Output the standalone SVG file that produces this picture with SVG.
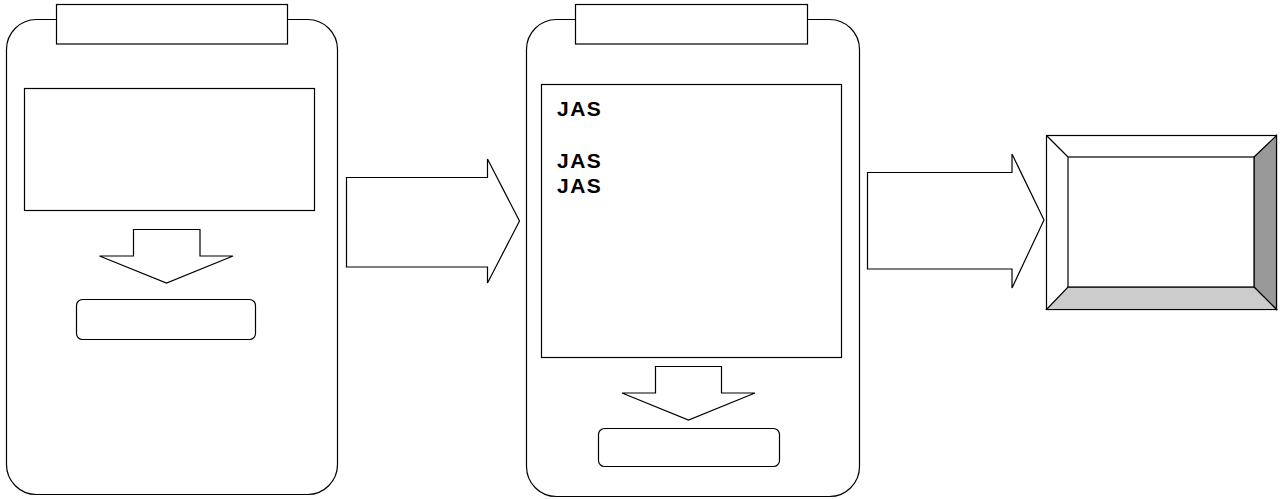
<svg xmlns="http://www.w3.org/2000/svg" width="1285" height="499" viewBox="0 0 1285 499">
<style>
.s{fill:#fff;stroke:#000;stroke-width:1.2}
.t{font-family:"Liberation Sans",Arial,sans-serif;font-weight:bold;font-size:21px;letter-spacing:1.5px;fill:#000}
</style>
<rect width="1285" height="499" fill="#fff"/>
<g id="device1">
<rect class="s" x="6.5" y="19.5" width="331" height="475" rx="30" ry="30"/>
<rect class="s" x="56.5" y="4.5" width="231" height="39.5"/>
<rect class="s" x="24.5" y="88.5" width="290" height="122"/>
<polygon class="s" points="133.5,229.5 200,229.5 200,256 233,256 166.5,283 99.5,256 133.5,256"/>
<rect class="s" x="76.5" y="299.5" width="179" height="40" rx="6" ry="6"/>
</g>
<g id="device2">
<rect class="s" x="526.5" y="19.5" width="333" height="477" rx="30" ry="30"/>
<rect class="s" x="575.5" y="4.5" width="232" height="39.5"/>
<rect class="s" x="541.5" y="84.5" width="300" height="273"/>
<text class="t" x="557" y="116">JAS</text>
<text class="t" x="557" y="168">JAS</text>
<text class="t" x="557" y="193">JAS</text>
<polygon class="s" points="655.5,366.5 721.5,366.5 721.5,393 755,393 688.5,420 622,393 655.5,393"/>
<rect class="s" x="598.5" y="428.5" width="181" height="38" rx="6" ry="6"/>
</g>
<g id="screen">
<rect x="1046.5" y="135.5" width="230" height="174" fill="#fff" stroke="#000" stroke-width="1.2"/>
<polygon points="1254,157 1276.5,135.5 1276.5,309.5 1254,287" fill="#999" stroke="#000" stroke-width="1.2"/>
<polygon points="1068,287 1254,287 1276.5,309.5 1046.5,309.5" fill="#ccc" stroke="#000" stroke-width="1.2"/>
<line x1="1046.5" y1="135.5" x2="1068" y2="157" stroke="#000" stroke-width="1.2"/>
<rect class="s" x="1068" y="157" width="186" height="130"/>
</g>
<g id="connectors">
<polygon class="s" points="346.5,177.5 487.5,177.5 487.5,159 519.5,221 487.5,283 487.5,267 346.5,267"/>
<polygon class="s" points="867.5,172.5 1012,172.5 1012,154 1044,220 1012,288 1012,269 867.5,269"/>
</g>
</svg>
